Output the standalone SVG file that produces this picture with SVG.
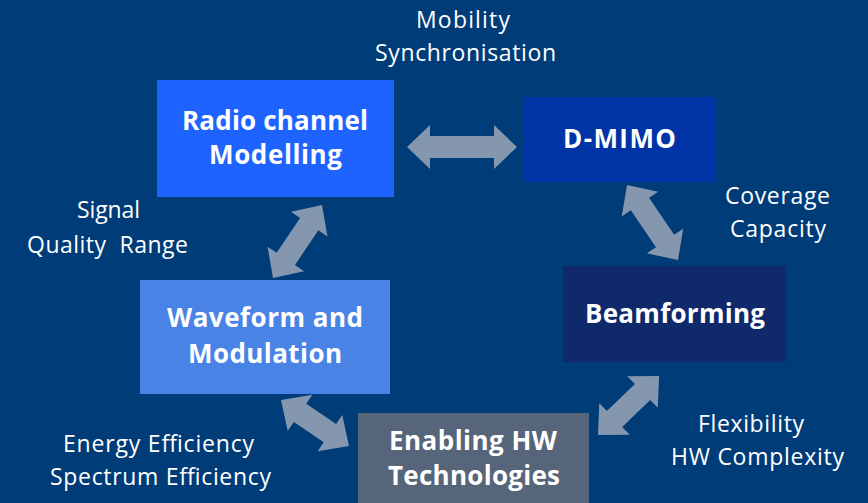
<svg xmlns="http://www.w3.org/2000/svg" width="868" height="503" viewBox="0 0 868 503">
  <style>
    .bg { fill: #003C78; }
    .conn { fill: #8497AE; }
    .title { font-family: "Open Sans", "Liberation Sans", sans-serif; font-weight: bold; font-size: 26px; fill: #FFFFFF; text-anchor: middle; }
    .note { font-family: "Open Sans", "Liberation Sans", sans-serif; font-size: 23px; fill: #FFFFFF; text-anchor: middle; white-space: pre; }
  </style>

  <rect class="bg" x="0" y="0" width="868" height="503"/>

  <!-- double-headed block arrows between the blocks -->
  <g id="connectors">
    <path class="conn" transform="translate(407,147)" d="M0,0 L23,-22 L23,-11 L87,-11 L87,-22 L110,0 L87,22 L87,11 L23,11 L23,22 Z"/>
    <path class="conn" transform="translate(273,278) rotate(-56.1)" d="M0,0 L23,-22 L23,-11 L64.9,-11 L64.9,-22 L87.9,0 L64.9,22 L64.9,11 L23,11 L23,22 Z"/>
    <path class="conn" transform="translate(627,185) rotate(55.8)" d="M0,0 L23,-22 L23,-11 L67.7,-11 L67.7,-22 L90.7,0 L67.7,22 L67.7,11 L23,11 L23,22 Z"/>
    <path class="conn" transform="translate(281,400) rotate(34.1)" d="M0,0 L23,-22 L23,-11 L59.1,-11 L59.1,-22 L82.1,0 L59.1,22 L59.1,11 L23,11 L23,22 Z"/>
    <path class="conn" transform="translate(598,435) rotate(-44)" d="M0,0 L23,-22 L23,-11 L61.9,-11 L61.9,-22 L84.9,0 L61.9,22 L61.9,11 L23,11 L23,22 Z"/>
  </g>

  <g id="radio-channel">
    <rect x="157" y="80" width="237" height="117" fill="#1F63FF"/>
    <text class="title" x="275" y="130" textLength="186">Radio channel</text>
    <text class="title" x="275.5" y="164" textLength="133">Modelling</text>
  </g>

  <g id="d-mimo">
    <rect x="524" y="97" width="191" height="85" fill="#0033A6"/>
    <text class="title" x="619.5" y="148" textLength="113">D-MIMO</text>
  </g>

  <g id="beamforming">
    <rect x="563" y="266" width="223" height="96" fill="#10296A"/>
    <text class="title" x="675" y="323" textLength="180">Beamforming</text>
  </g>

  <g id="waveform">
    <rect x="140" y="280" width="250" height="114" fill="#4A83E6"/>
    <text class="title" x="265" y="327" textLength="196">Waveform and</text>
    <text class="title" x="265" y="363" textLength="154">Modulation</text>
  </g>

  <g id="enabling-hw">
    <rect x="358" y="413" width="231" height="95" fill="#56657A"/>
    <text class="title" x="473" y="450" textLength="168">Enabling HW</text>
    <text class="title" x="474" y="485" textLength="172">Technologies</text>
  </g>

  <!-- requirement notes beside the links -->
  <g id="notes">
    <text class="note" x="463" y="28" textLength="94">Mobility</text>
    <text class="note" x="465.5" y="61" textLength="181">Synchronisation</text>
    <text class="note" x="777.5" y="204" textLength="105">Coverage</text>
    <text class="note" x="778" y="237" textLength="96">Capacity</text>
    <text class="note" x="108.5" y="218" textLength="63">Signal</text>
    <text class="note" x="107.5" y="253" textLength="161" xml:space="preserve">Quality  Range</text>
    <text class="note" x="158.5" y="452" textLength="191">Energy Efficiency</text>
    <text class="note" x="160.5" y="485" textLength="221">Spectrum Efficiency</text>
    <text class="note" x="751" y="432" textLength="106">Flexibility</text>
    <text class="note" x="757.5" y="465" textLength="173">HW Complexity</text>
  </g>
</svg>
